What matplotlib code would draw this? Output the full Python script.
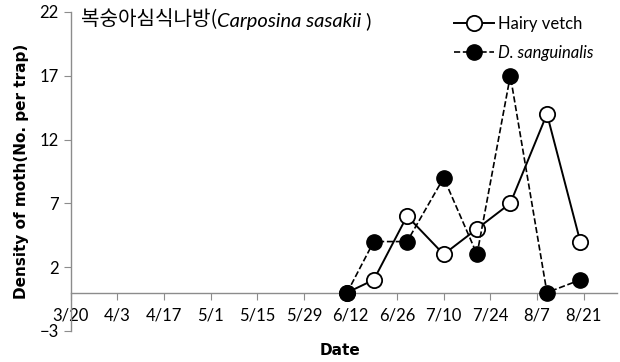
import datetime as dt
import matplotlib
matplotlib.use("Agg")
import matplotlib.pyplot as plt
import matplotlib.dates as mdates

plt.rcParams['font.family'] = ['Lato', 'Noto Sans CJK KR', 'DejaVu Sans']

# data
dates = ['6/11', '6/19', '6/29', '7/10', '7/20', '7/30', '8/10', '8/20']
hairy_vetch = [0, 1, 6, 3, 5, 7, 14, 4]
d_sanguinalis = [0, 4, 4, 9, 3, 17, 0, 1]
tick_labels = ['3/20', '4/3', '4/17', '5/1', '5/15', '5/29', '6/12',
               '6/26', '7/10', '7/24', '8/7', '8/21']
y_ticks = [-3, 2, 7, 12, 17, 22]

year = 2013
def to_date(s):
    m, d = s.split('/')
    return dt.date(year, int(m), int(d))

x = [to_date(s) for s in dates]
xt = [to_date(s) for s in tick_labels]

fig = plt.figure(figsize=(6.2, 3.62), dpi=100)
ax = fig.add_axes([0.114, 0.086, 0.881, 0.881])

ax.plot(x, hairy_vetch, '-', color='black', lw=1.4, marker='o', ms=11,
        mfc='white', mec='black', mew=1.3, label='Hairy vetch', zorder=3)
ax.plot(x, d_sanguinalis, '--', color='black', lw=1.2, marker='o', ms=11,
        mfc='black', mec='black', label='D. sanguinalis', zorder=4)

ax.set_ylim(-3, 22)
ax.set_yticks(y_ticks)
ax.set_xlim(mdates.date2num(xt[0]), mdates.date2num(dt.date(year, 8, 31)))
ax.set_xticks(xt)
ax.set_xticklabels(tick_labels)

for side in ['top', 'right']:
    ax.spines[side].set_visible(False)
ax.spines['bottom'].set_position(('data', 0))
for side in ['left', 'bottom']:
    ax.spines[side].set_color('#8c8c8c')
    ax.spines[side].set_linewidth(1.0)
ax.tick_params(axis='both', colors='#8c8c8c', labelcolor='black',
               labelsize=12, length=5, direction='out')
ax.tick_params(axis='x', pad=6)

ax.set_ylabel('Density of moth(No. per trap)', fontsize=11, fontweight='bold',
              family='DejaVu Sans', labelpad=8)
fig.text(0.548, 0.012, 'Date', fontsize=11, fontweight='bold',
         family='DejaVu Sans', ha='center', va='bottom')

t1 = fig.text(0.13, 0.945, '복숭아심식나방(', fontsize=14.5,
              family=['Noto Sans CJK KR', 'DejaVu Sans'], va='center')
t2 = ax.annotate('Carposina sasakii', xy=(1, 0), xycoords=t1, va='bottom',
                 fontsize=14.5, style='italic', family='Lato')
ax.annotate(' )', xy=(1, 0), xycoords=t2, va='bottom', fontsize=14.5,
            family='Lato')

leg = ax.legend(loc='upper left', bbox_to_anchor=(0.675, 1.035), frameon=False,
                fontsize=12, handlelength=2.4, handletextpad=0.2,
                labelspacing=0.8)
leg.get_texts()[1].set_style('italic')

fig.savefig('out.png', dpi=100)
